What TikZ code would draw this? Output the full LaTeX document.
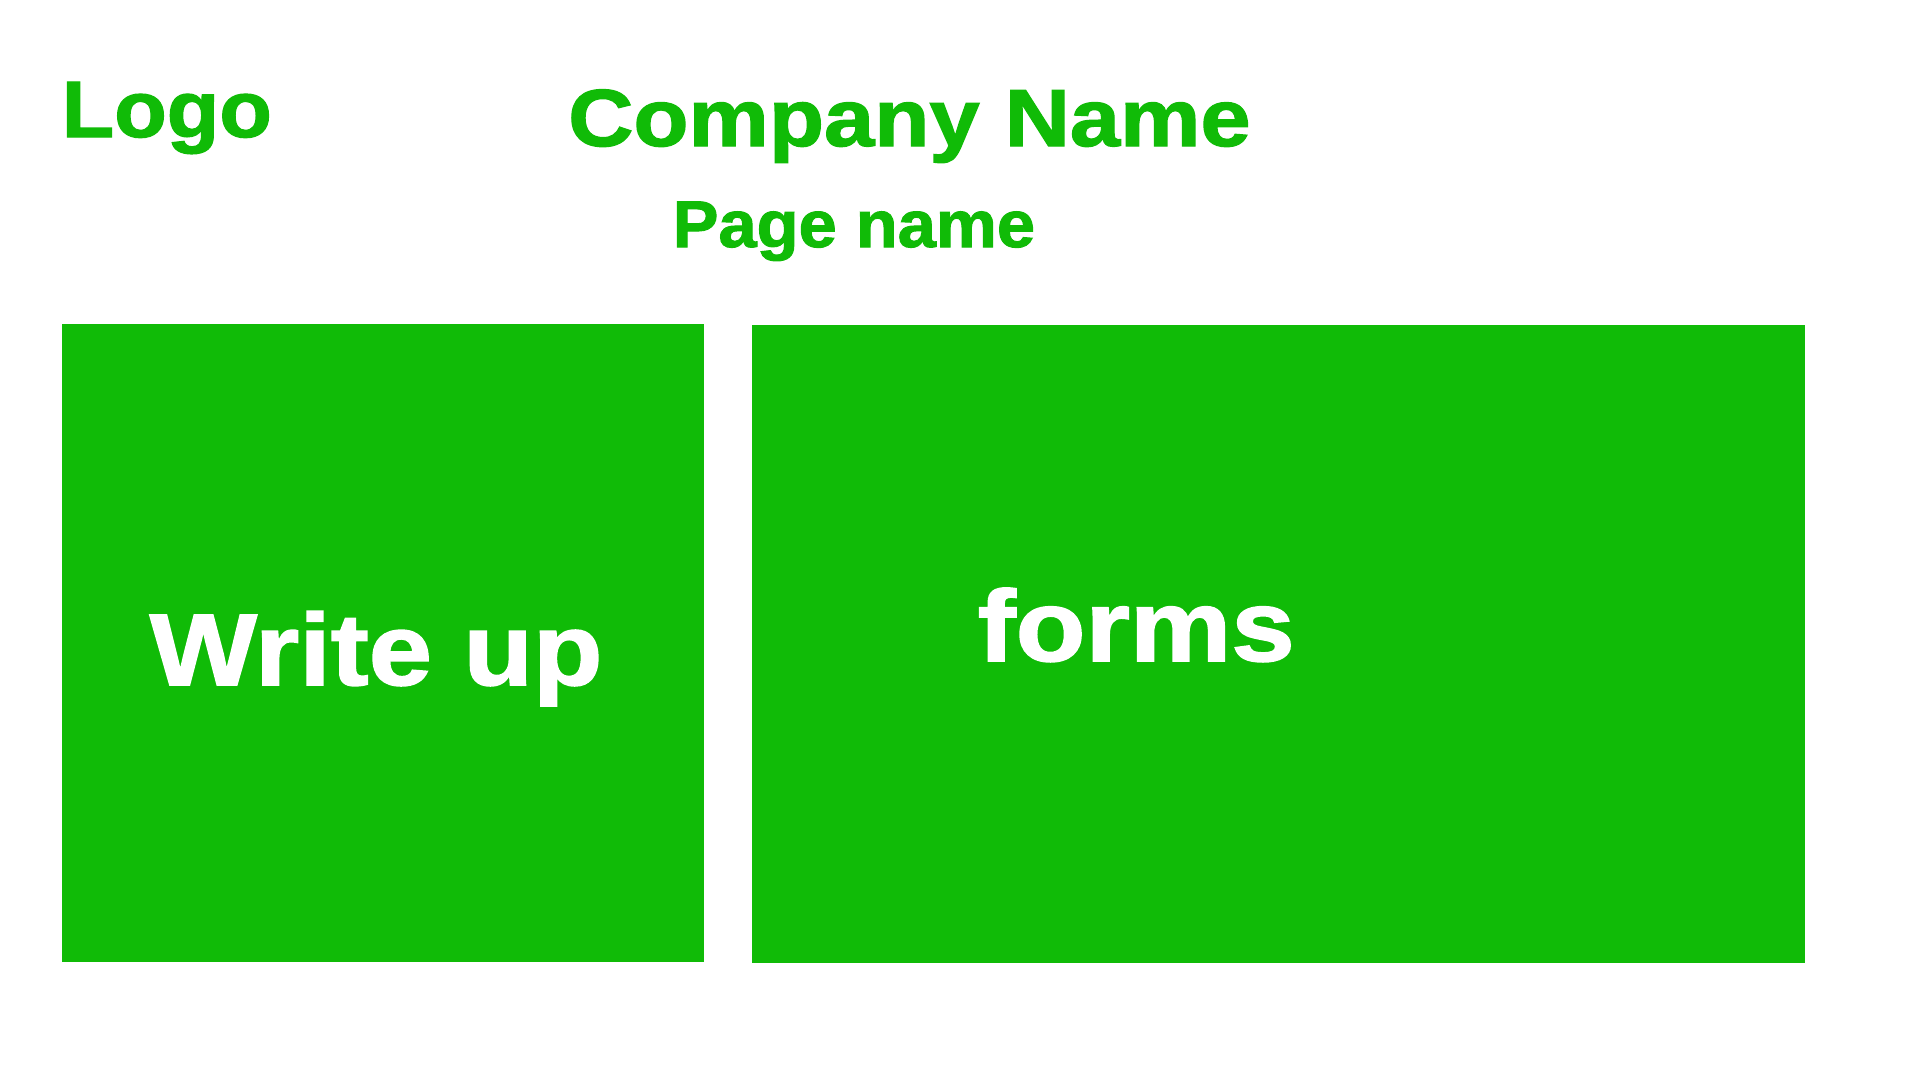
\documentclass[tikz,border=0pt]{standalone}
\usepackage{fontspec}
\usepackage{graphicx}
\setmainfont{Liberation Sans}
\newfontfamily\heavyfont[BoldFeatures={FakeBold=1.5}]{Liberation Sans}
\definecolor{brandgreen}{HTML}{10BB07}
\tikzset{
  panel/.style={fill=brandgreen, draw=none, inner sep=0pt, anchor=north west},
  title/.style={text=brandgreen, inner sep=0pt, anchor=base west},
  paneltext/.style={text=white, inner sep=0pt, anchor=base west},
}
\newcommand{\heavytext}[3]{{\heavyfont\bfseries\fontsize{#1}{#1}\selectfont\scalebox{#2}[1]{#3}}}
\begin{document}
\begin{tikzpicture}[x=1pt,y=-1pt]
\useasboundingbox[fill=white] (0,0) rectangle (1920,1080);
\node[panel, minimum width=642pt, minimum height=638pt] (leftbox) at (62,324) {};
\node[panel, minimum width=1053pt, minimum height=638pt] (rightbox) at (752,325) {};
\node[title] (logo) at (61.5,137) {\heavytext{80}{1.075}{Logo}};
\node[title] (company) at (568,146) {\heavytext{81}{1.115}{Company Name}};
\node[title] (page) at (672.5,247) {\heavytext{66}{1.04}{Page name}};
\node[paneltext] (writeup) at (149.5,685) {\heavytext{102}{1.115}{Write up}};
\node[paneltext] (forms) at (977.5,661) {\heavytext{101}{1.13}{forms}};
\end{tikzpicture}
\end{document}
